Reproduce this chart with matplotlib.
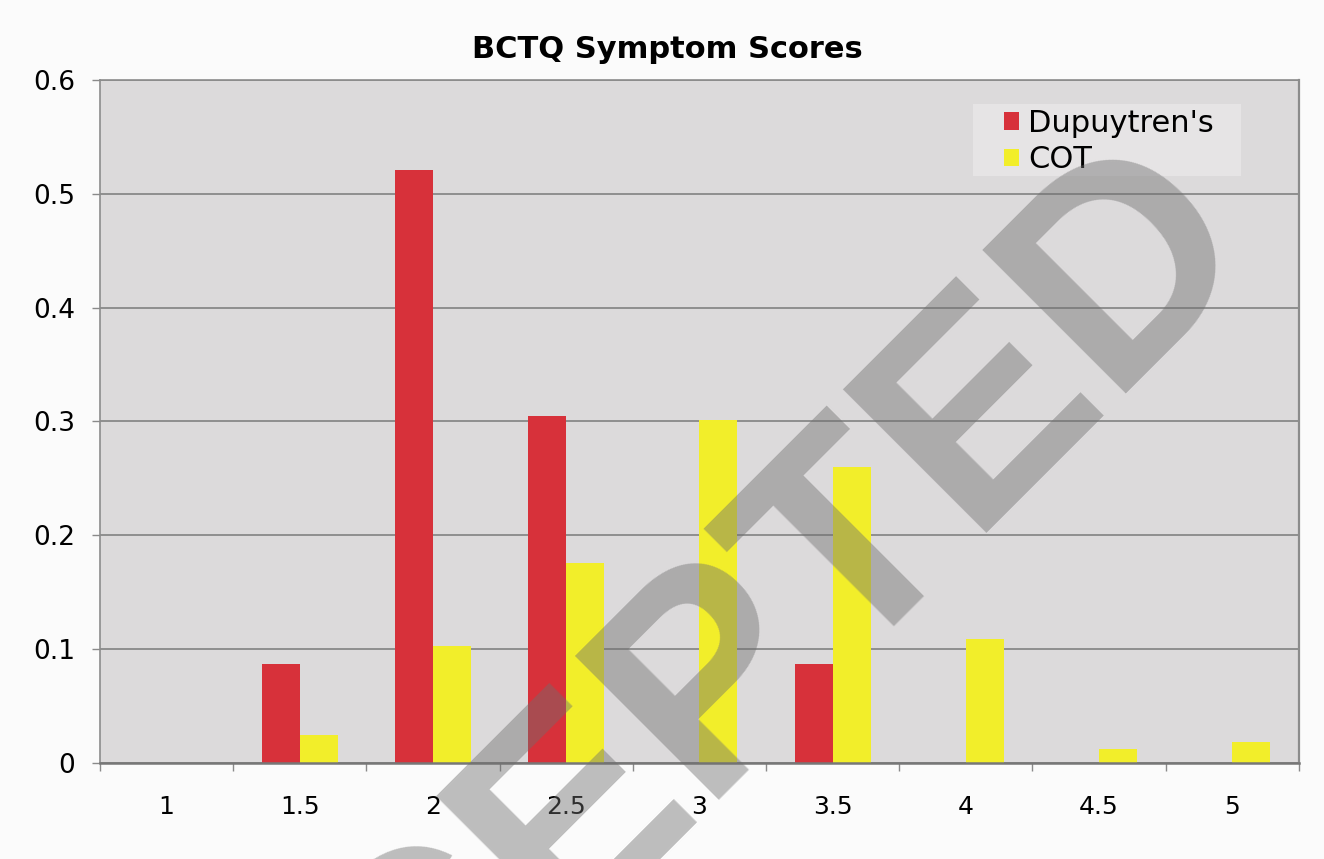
import matplotlib
matplotlib.use("Agg")
import matplotlib.pyplot as plt
import numpy as np
from matplotlib.patches import Patch, Rectangle

matplotlib.rcParams.update({
    "font.family": "DejaVu Sans",
})

SCORES = ["1", "1.5", "2", "2.5", "3", "3.5", "4", "4.5", "5"]
DUPUYTREN = [0.0, 0.087, 0.521, 0.305, 0.0, 0.087, 0.0, 0.0, 0.0]
COT = [0.0, 0.025, 0.103, 0.176, 0.301, 0.260, 0.109, 0.012, 0.018]
SERIES = ["Dupuytren's", "COT"]

RED = "#D7313A"
YELLOW = "#F2EE2A"
GRID = "#7A7A7A"

fig = plt.figure(figsize=(13.24, 8.59), dpi=100, facecolor="#FBFBFB")
ax = fig.add_axes([0.0755, 0.1118, 0.9055, 0.7951])
ax.set_facecolor("#DCDADB")

x = np.arange(len(SCORES))
w = 0.285
ax.bar(x - w / 2, DUPUYTREN, width=w, color=RED, zorder=2)
ax.bar(x + w / 2, COT, width=w, color=YELLOW, zorder=2)

ax.set_xlim(-0.5, len(SCORES) - 0.5)
ax.set_ylim(0, 0.6)
ax.set_yticks(np.arange(0, 0.61, 0.1))
ax.set_yticklabels(["0", "0.1", "0.2", "0.3", "0.4", "0.5", "0.6"])
ax.yaxis.grid(True, color=GRID, lw=1.1, zorder=1)
ax.set_axisbelow(True)

ax.set_xticks(x)
ax.set_xticklabels(SCORES)
ax.set_xticks(np.arange(-0.5, len(SCORES)), minor=True)
ax.tick_params(axis="x", which="major", length=0, pad=23, labelsize=18)
ax.tick_params(axis="x", which="minor", length=6, color="#8A8A8A", width=1)
ax.tick_params(axis="y", length=6, color="#8A8A8A", width=1, pad=12, labelsize=19)

for side in ["left", "right", "top"]:
    ax.spines[side].set_color("#8C8C8C")
    ax.spines[side].set_linewidth(1.2)
ax.spines["right"].set_linewidth(1.6)
ax.spines["bottom"].set_color("#777777")
ax.spines["bottom"].set_linewidth(1.8)

# legend box drawn separately: wide side padding, tight top/bottom
ax.add_patch(Rectangle((0.728, 0.859), 0.224, 0.106, transform=ax.transAxes,
                       facecolor="#E6E4E5", edgecolor="none", zorder=3))
handles = [Patch(facecolor=RED), Patch(facecolor=YELLOW)]
leg = ax.legend(
    handles, SERIES, loc="upper left", bbox_to_anchor=(0.754, 0.958),
    borderaxespad=0, borderpad=0, fontsize=22, frameon=False,
    handlelength=0.5, handleheight=0.5, handletextpad=0.3,
    labelspacing=0.25,
)
leg.set_zorder(4)

fig.text(0.504, 0.942, "BCTQ Symptom Scores", ha="center", va="center",
         fontsize=22, fontweight="bold")

# watermark across the chart
fig.text(0.519, 0.039, "ACCEPTED", rotation=45, rotation_mode="anchor",
         ha="center", va="baseline", fontsize=213, fontweight="bold",
         family="Liberation Sans", color="#6E6E6E", alpha=0.44, zorder=10)

fig.savefig("out.png", dpi=100, facecolor=fig.get_facecolor())
